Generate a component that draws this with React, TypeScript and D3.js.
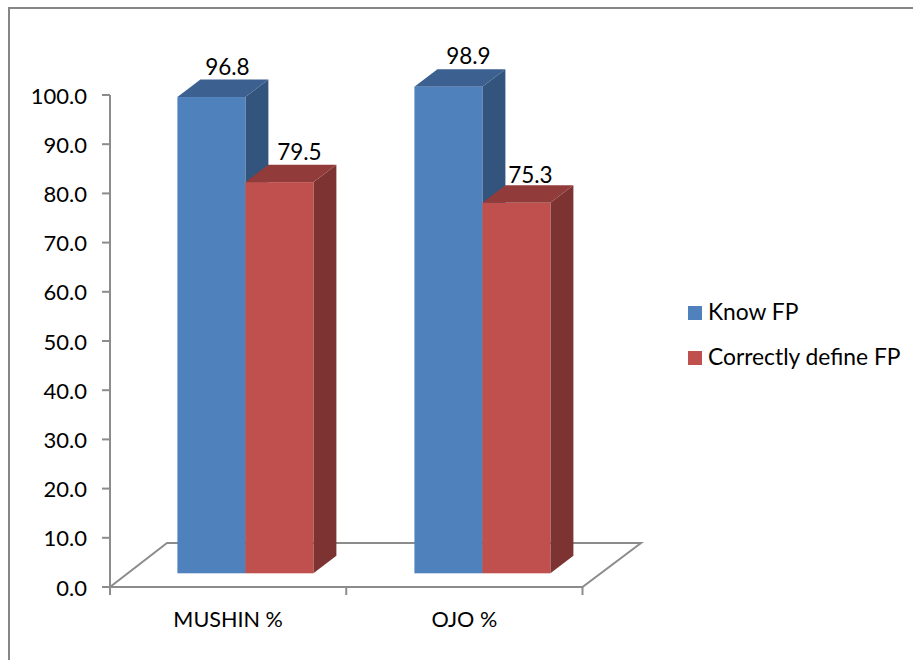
import React from "react";
import * as d3 from "d3";

const categories = ["MUSHIN %", "OJO %"];
const seriesNames = ["Know FP", "Correctly define FP"];
const knowFp = [96.8, 98.9];
const correctlyDefineFp = [79.5, 75.3];
const yTicks = [0, 10, 20, 30, 40, 50, 60, 70, 80, 90, 100];

const FONT = "Lato, 'Open Sans', sans-serif";
const AXIS = "#8c8c8c";
const palette = [
  { front: "#4f81bd", top: "#3c6191", side: "#33547d" },
  { front: "#c0504d", top: "#913c3a", side: "#7d3331" },
];

const axisX = 110;
const axisEnd = 582.5;
const floorFrontY = 587;
const scaleSpan = 492;
const floorBack = { left: 167, right: 641, y: 543 };
const barDepth = { dx: 23, dy: 17.5 };
const barBase = 573.3;
const barW = 68;

// Per-label adjustment of the value labels above the bars, series by category.
const labelNudge = [
  [{ dx: -1, dy: 0 }, { dx: 3, dy: 0 }],
  [{ dx: 3, dy: -1 }, { dx: -3, dy: 2 }],
];

// Vertical scales: one for the axis at the front of the floor, one for the bars standing on it.
const yAxis = d3.scaleLinear().domain([0, 100]).range([floorFrontY, floorFrontY - scaleSpan]);
const yBar = d3.scaleLinear().domain([0, 100]).range([barBase, barBase - scaleSpan]);
const xCat = d3.scaleBand<string>().domain(categories).range([axisX, axisEnd]);
const xBars = d3.scaleBand<string>().domain(categories).range([axisX, axisX + 474]);

const poly = (pts: [number, number][]) => pts.map((p) => p.join(",")).join(" ");

function Bar({ x, w, value, c }: { x: number; w: number; value: number; c: (typeof palette)[number] }) {
  const top = yBar(value);
  const { dx, dy } = barDepth;
  return (
    <g>
      <polygon points={poly([[x + w, top], [x + w + dx, top - dy], [x + w + dx, barBase - dy], [x + w, barBase]])} fill={c.side} />
      <polygon points={poly([[x, top], [x + dx, top - dy], [x + w + dx, top - dy], [x + w, top]])} fill={c.top} />
      <rect x={x} y={top} width={w} height={barBase - top} fill={c.front} />
    </g>
  );
}

export default function App() {
  const groups = categories.map((cat, i) => ({
    cat,
    left: (xBars(cat) as number) + 67.4,
    vals: [knowFp[i], correctlyDefineFp[i]],
    nudge: labelNudge[i],
  }));
  return (
    <svg
      width={913}
      height={660}
      style={{ position: "absolute", left: 0, top: 0, background: "#fff" }}
      fontFamily={FONT}
      fill="#000"
    >
      {/* chart frame: top and left edges */}
      <path d="M913,8 H9 V660" fill="none" stroke="#868686" strokeWidth={2} />

      {/* floor */}
      <polygon
        points={poly([
          [axisX, floorFrontY],
          [floorBack.left, floorBack.y],
          [floorBack.right, floorBack.y],
          [axisEnd, floorFrontY],
        ])}
        fill="none"
        stroke={AXIS}
        strokeWidth={2}
      />

      {/* value axis */}
      <line x1={axisX} x2={axisX} y1={yAxis(100)} y2={floorFrontY} stroke={AXIS} strokeWidth={2} />
      {yTicks.map((t) => (
        <g key={t}>
          <line x1={axisX - 8} x2={axisX} y1={yAxis(t)} y2={yAxis(t)} stroke={AXIS} strokeWidth={2} />
          <text x={87} y={yAxis(t) + 8.5} textAnchor="end" fontSize={22}>
            {d3.format(".1f")(t)}
          </text>
        </g>
      ))}

      {/* category axis */}
      {[axisX, ...categories.map((c) => (xCat(c) as number) + xCat.bandwidth())].map((x) => (
        <line key={x} x1={x} x2={x} y1={floorFrontY} y2={595} stroke={AXIS} strokeWidth={2} />
      ))}

      {/* bars */}
      {groups.map((g) =>
        g.vals.map((v, s) => (
          <Bar key={g.cat + s} x={g.left + s * barW} w={barW} value={v} c={palette[s]} />
        )),
      )}

      {/* value labels */}
      {groups.map((g) =>
        g.vals.map((v, s) => (
          <text
            key={g.cat + s}
            x={g.left + s * barW + barW / 2 + 17 + g.nudge[s].dx}
            y={yBar(v) - 22 + g.nudge[s].dy}
            textAnchor="middle"
            fontSize={22.5}
          >
            {d3.format(".1f")(v)}
          </text>
        )),
      )}

      {categories.map((c) => (
        <text key={c} x={(xCat(c) as number) + xCat.bandwidth() / 2} y={627} textAnchor="middle" fontSize={21.6}>
          {c}
        </text>
      ))}

      {/* legend */}
      {seriesNames.map((name, i) => (
        <g key={name}>
          <rect x={688} y={306 + i * 45} width={14} height={14} fill={palette[i].front} />
          <text x={708} y={320 + i * 45} fontSize={22.8}>
            {name}
          </text>
        </g>
      ))}
    </svg>
  );
}
